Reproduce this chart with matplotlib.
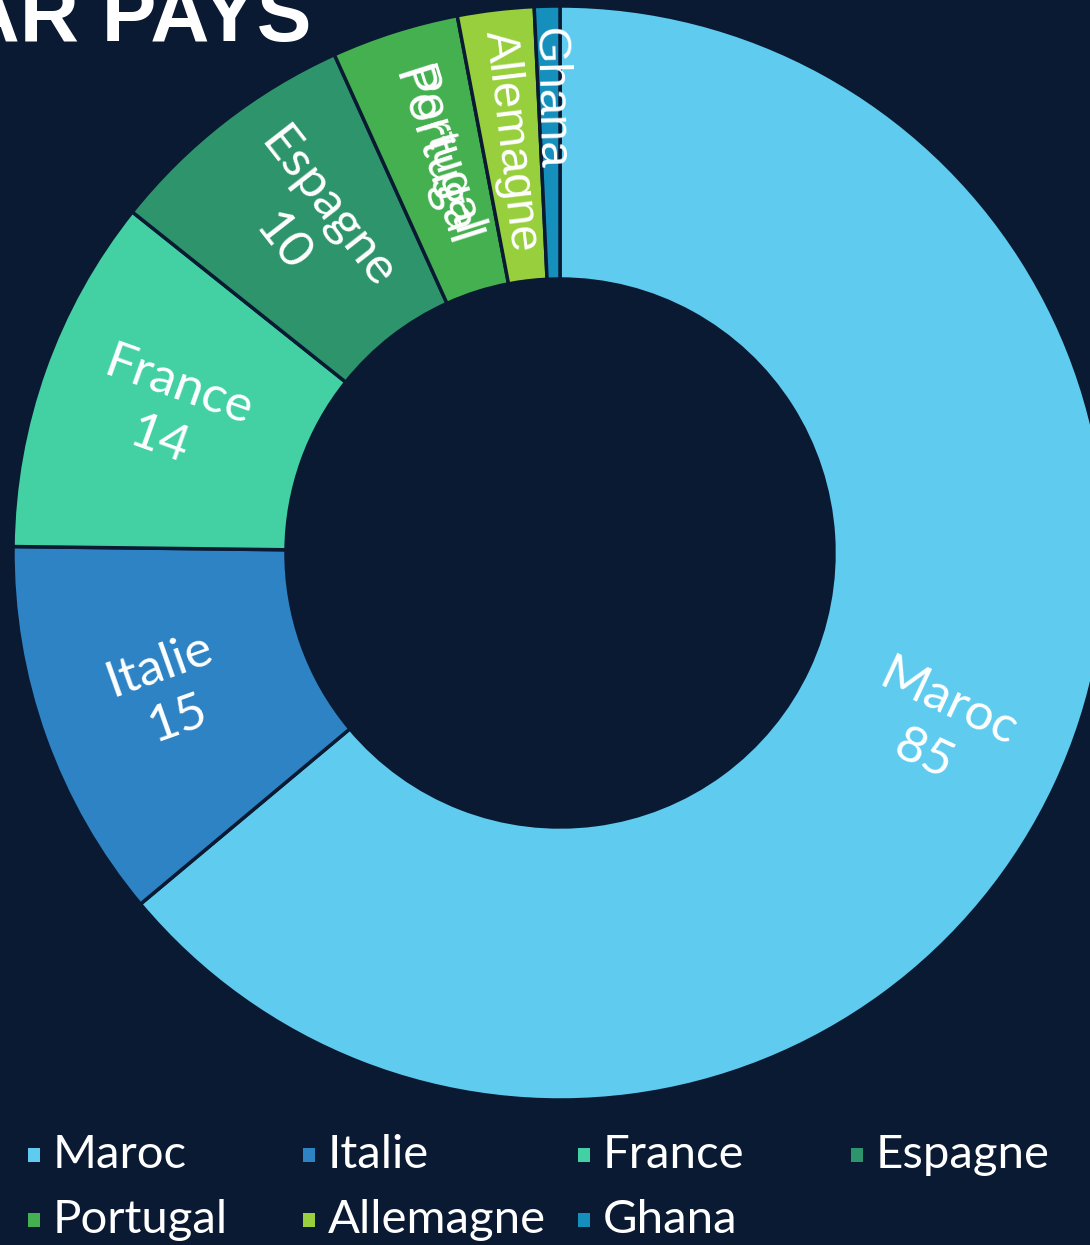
import matplotlib.pyplot as plt
import matplotlib.patches as patches
import numpy as np

# data
countries = ["Maroc", "Italie", "France", "Espagne", "Portugal", "Allemagne", "Ghana"]
values = [85, 15, 14, 10, 5, 3, 1]
colors = ["#5ecbef", "#2e83c5", "#43d0a2", "#2e946c", "#45b04f", "#97cf3d", "#1590bd"]
show_value = [True, True, True, True, False, False, False]

BG = "#0b1a33"
W, H = 1090, 1245


def make_chart():
    fig = plt.figure(figsize=(W / 100, H / 100), dpi=100, facecolor=BG)
    ax = fig.add_axes([0, 0, 1, 1])
    ax.set_facecolor(BG)

    cx, cy = 560, H - 553
    r_out, ring = 547, 273
    wedges, _ = ax.pie(values, colors=colors, startangle=90, counterclock=False,
                       center=(cx, cy), radius=r_out,
                       wedgeprops=dict(width=ring, edgecolor=BG, linewidth=2.5))

    ax.set_xlim(0, W)
    ax.set_ylim(0, H)
    ax.set_aspect('equal')
    ax.axis('off')

    for w, name, val, show in zip(wedges, countries, values, show_value):
        mid = (w.theta1 + w.theta2) / 2
        mid = (mid + 180) % 360 - 180
        rot = mid if -90 <= mid <= 90 else mid - 180
        rr = 455 if name == "Ghana" else 415
        x = cx + rr * np.cos(np.radians(mid))
        y = cy + rr * np.sin(np.radians(mid))
        if show:
            ax.text(x, y, f"{name}\n{val}", rotation=rot, rotation_mode='anchor',
                    ha='center', va='center', color='white', fontsize=37,
                    family='Lato', linespacing=1.3)
        elif name == "Portugal":
            # label drawn twice, overlapping
            ax.text(x, y, name, rotation=rot, rotation_mode='anchor',
                    ha='center', va='center', color='white', fontsize=36,
                    family='Lato')
            ax.text(x + 5, y + 6, name, rotation=rot, rotation_mode='anchor',
                    ha='center', va='center', color='white', fontsize=34,
                    family='Liberation Sans')
        else:
            ax.text(x, y, name, rotation=rot, rotation_mode='anchor',
                    ha='center', va='center', color='white', fontsize=34,
                    family='Liberation Sans')

    # title (cut at the left edge)
    ax.text(312, H - 41, "PAR PAYS", ha='right', va='baseline', color='white',
            fontsize=59, fontweight='bold', family='Liberation Sans')

    # legend
    col_x = [28, 303, 578, 851]
    row_y = [H - 1155, H - 1220]
    for i, (name, c) in enumerate(zip(countries, colors)):
        x0 = col_x[i % 4]
        y0 = row_y[i // 4]
        ax.add_patch(patches.Rectangle((x0, y0 - 7), 12, 14, facecolor=c,
                                       edgecolor='none'))
        ax.text(x0 + 25, y0, name, ha='left', va='center', color='white',
                fontsize=34, family='Lato')

    fig.savefig('out.png', dpi=100, facecolor=BG)


if __name__ == "__main__":
    make_chart()
